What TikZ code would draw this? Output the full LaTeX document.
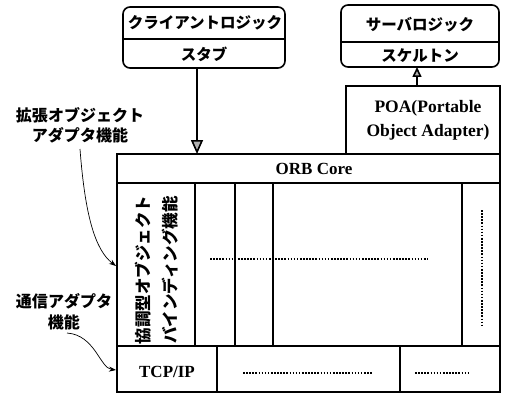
\documentclass[tikz,border=0pt]{standalone}
\usepackage{fontspec}
\setmainfont{Liberation Serif}
\newfontfamily\jp{Noto Sans CJK JP}
\usetikzlibrary{arrows.meta}
\begin{document}
\begin{tikzpicture}[x=1pt,y=-1pt,
  box/.style={draw, line width=1.6pt, inner sep=0pt},
  rbox/.style={box, rounded corners=7pt},
  jtxt/.style={font=\jp\bfseries\fontsize{15.5}{19}\selectfont, inner sep=0pt},
  ltxt/.style={font=\bfseries\fontsize{17}{21}\selectfont, inner sep=0pt},
  inner/.style={line width=1.6pt},
  dots/.style={line width=1.8pt, dash pattern=on 1.6pt off 1.5pt},
  bigarrow/.style={line width=1.6pt, -{Triangle[length=14pt,width=12pt,fill=gray!60]}},
  smallarrow/.style={line width=1.6pt, -{Triangle[length=10pt,width=9pt,fill=gray!60]}},
  lblarrow/.style={line width=0.7pt, -{Stealth[length=7pt,width=5pt]}}]
\useasboundingbox (0,0) rectangle (505,393);
% client
\node[rbox, minimum width=162pt, minimum height=61pt] (client) at (204,37.5) {};
\draw[inner] (123,39) -- (285,39);
\node[jtxt] (clientlogic) at (205,23) {クライアントロジック};
\node[jtxt] (stub) at (204,54) {スタブ};
% server
\node[rbox, minimum width=158pt, minimum height=62pt] (server) at (420,36) {};
\draw[inner] (341,42) -- (499,42);
\node[jtxt] (serverlogic) at (420,25) {サーバロジック};
\node[jtxt] (skel) at (420,56) {スケルトン};
% POA
\node[box, minimum width=154pt, minimum height=68pt] (poa) at (423,120) {};
\node[ltxt, align=center, font=\bfseries\fontsize{17.5}{24}\selectfont] (poatxt) at (428,120) {POA(Portable\\Object Adapter)};
% main box
\draw[line width=2.6pt] (117,154) rectangle (500,392);
\coordinate (maintop) at (197,154);
\draw[inner] (117,183) -- (500,183);
\node[ltxt] (orb) at (314,169) {ORB Core};
\foreach \x in {195,235,273,462} \draw[inner] (\x,183) -- (\x,346);
\draw[inner] (117,346) -- (500,346);
\draw[inner] (217,346) -- (217,392);
\draw[inner] (400,346) -- (400,392);
\node[jtxt, rotate=90, align=center, font=\jp\bfseries\fontsize{16.5}{27}\selectfont] (bind) at (157,270) {協調型オブジェクト\\バインディング機能};
\node[ltxt] (tcp) at (167,372) {TCP/IP};
\coordinate (d1a) at (210,259); \coordinate (d1b) at (428,259);
\draw[dots] (d1a) -- (d1b);
\coordinate (d2a) at (482,210); \coordinate (d2b) at (482,327);
\draw[dots] (d2a) -- (d2b);
\coordinate (d3a) at (243,373); \coordinate (d3b) at (373,373);
\draw[dots] (d3a) -- (d3b);
\coordinate (d4a) at (415,373); \coordinate (d4b) at (468,373);
\draw[dots] (d4a) -- (d4b);
% arrows
\coordinate (cbot) at (197,68);
\draw[bigarrow] (cbot) -- (maintop);
\coordinate (poatop) at (417,86);
\coordinate (sbot) at (417,67);
\draw[smallarrow] (poatop) -- (sbot);
% labels
\node[jtxt, align=center, font=\jp\bfseries\fontsize{16}{20}\selectfont] (ext) at (80,125) {拡張オブジェクト\\アダプタ機能};
\node[jtxt, align=center, font=\jp\bfseries\fontsize{16}{21}\selectfont] (comm) at (64,312) {通信アダプタ\\機能};
\coordinate (extend) at (116,266);
\coordinate (commend) at (116,370);
\draw[lblarrow] (80,149) .. controls (85,215) and (95,250) .. (extend);
\draw[lblarrow] (67,333) .. controls (95,335) and (100,368) .. (commend);
\end{tikzpicture}
\end{document}
